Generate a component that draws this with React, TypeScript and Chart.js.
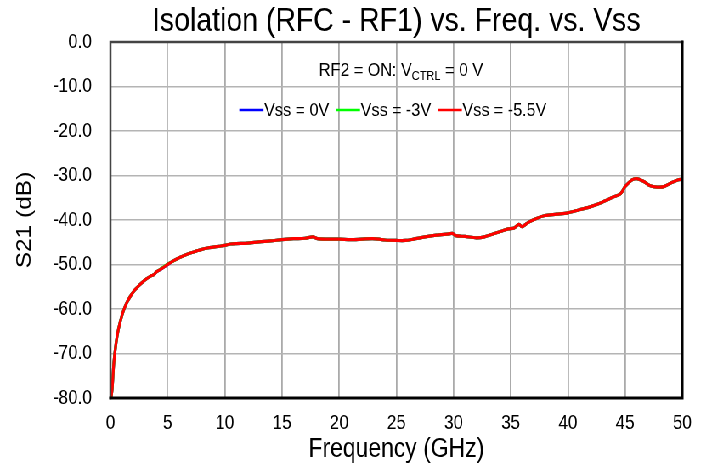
import { useEffect, useRef } from 'react';
import { Chart, registerables } from 'chart.js';

Chart.register(...registerables);

const titleText = 'Isolation (RFC - RF1) vs. Freq. vs. Vss';
const xAxisTitle = 'Frequency (GHz)';
const yAxisTitle = 'S21 (dB)';
const noteMain = 'RF2 = ON: V';
const noteSub = 'CTRL';
const noteTail = ' = 0 V';

const xTicks = [0, 5, 10, 15, 20, 25, 30, 35, 40, 45, 50];
const yTicks = [0, -10, -20, -30, -40, -50, -60, -70, -80];

const freqGHz = [
  0.05, 0.15, 0.3, 0.5, 0.7, 1.0, 1.3, 1.7, 2.1, 2.5, 3.0, 3.5, 3.8, 4.0, 4.5, 5.0,
  5.5, 6.0, 6.5, 7.0, 7.5, 8.0, 8.5, 9.0, 9.5, 10.0, 10.5, 11.0, 12.0, 13.0, 14.0,
  15.0, 16.0, 17.0, 17.7, 18.1, 19.0, 20.0, 21.0, 22.0, 22.9, 23.5, 24.0, 25.0,
  25.8, 26.5, 27.5, 28.5, 29.6, 29.9, 30.2, 31.0, 32.0, 32.7, 33.5, 34.3, 34.8,
  35.3, 35.7, 36.0, 36.5, 37.2, 38.0, 39.0, 40.0, 41.0, 42.0, 43.0, 44.0, 44.6,
  45.0, 45.6, 46.0, 46.6, 47.2, 47.8, 48.4, 49.0, 49.6, 50.0,
];

const vss0V = [
  -80, -78, -72, -67.5, -64.5, -61.5, -59.3, -57.3, -55.8, -54.7, -53.5, -52.6, -52.3, -51.7, -50.9, -50.0,
  -49.2, -48.5, -47.9, -47.4, -47.0, -46.6, -46.3, -46.1, -45.9, -45.7, -45.4, -45.3, -45.2, -44.9, -44.7,
  -44.4, -44.2, -44.1, -43.8, -44.2, -44.3, -44.3, -44.4, -44.3, -44.2, -44.3, -44.5, -44.6,
  -44.6, -44.3, -43.8, -43.4, -43.1, -43.0, -43.5, -43.7, -44.0, -43.8, -43.1, -42.4, -42.0,
  -41.8, -41.0, -41.5, -40.6, -39.7, -39.0, -38.7, -38.4, -37.7, -37.0, -36.0, -34.8, -34.1,
  -32.5, -31.0, -30.7, -31.3, -32.3, -32.6, -32.5, -31.7, -31.0, -30.8,
];

const vss3V = [
  -80, -78, -72, -67.5, -64.5, -61.5, -59.3, -57.3, -55.8, -54.7, -53.5, -52.6, -52.3, -51.7, -50.8, -49.9,
  -49.2, -48.5, -47.9, -47.4, -47.0, -46.6, -46.3, -46.1, -45.9, -45.7, -45.4, -45.3, -45.2, -44.9, -44.7,
  -44.4, -44.2, -44.1, -43.8, -44.2, -44.3, -44.3, -44.4, -44.3, -44.2, -44.3, -44.5, -44.6,
  -44.6, -44.3, -43.8, -43.4, -43.1, -43.0, -43.5, -43.7, -44.0, -43.8, -43.1, -42.4, -42.0,
  -41.8, -41.0, -41.5, -40.6, -39.7, -39.0, -38.7, -38.4, -37.7, -37.0, -36.0, -34.8, -34.1,
  -32.5, -31.0, -30.7, -31.3, -32.3, -32.6, -32.5, -31.7, -31.0, -30.8,
];

const vss55V = [
  -80, -78, -72, -67.5, -64.5, -61.5, -59.3, -57.3, -55.8, -54.7, -53.5, -52.6, -52.3, -51.7, -50.9, -50.0,
  -49.2, -48.5, -47.9, -47.4, -47.0, -46.6, -46.3, -46.1, -45.9, -45.7, -45.4, -45.3, -45.2, -44.9, -44.7,
  -44.4, -44.2, -44.1, -43.8, -44.2, -44.3, -44.3, -44.4, -44.3, -44.2, -44.3, -44.5, -44.6,
  -44.6, -44.3, -43.8, -43.4, -43.1, -43.0, -43.5, -43.7, -44.0, -43.8, -43.1, -42.4, -42.0,
  -41.8, -41.0, -41.5, -40.6, -39.7, -39.0, -38.7, -38.4, -37.7, -37.0, -36.0, -34.8, -34.1,
  -32.5, -31.0, -30.7, -31.3, -32.3, -32.6, -32.5, -31.7, -31.0, -30.8,
];

const seriesLabels = ['Vss = 0V', 'Vss = -3V', 'Vss = -5.5V'];
const seriesColors = ['#0000FF', '#00FF00', '#FF0000'];
const seriesValues = [vss0V, vss3V, vss55V];

const FONT = "'Liberation Sans', Arial, sans-serif";

// The reference is horizontally condensed; draw wider and squeeze with CSS.
const CANVAS_W = 838;
const CANVAS_H = 469;
const SQUEEZE = 712 / CANVAS_W;

const overlayPlugin = {
  id: 'overlay',
  afterDraw(chart: any) {
    const { ctx, chartArea } = chart;
    const { left, right, top, bottom } = chartArea;
    const cx = (left + right) / 2;
    ctx.save();
    // frame
    ctx.lineCap = 'square';
    ctx.strokeStyle = '#444444';
    ctx.lineWidth = 2.5;
    ctx.beginPath();
    ctx.moveTo(left, bottom);
    ctx.lineTo(left, top);
    ctx.lineTo(right, top);
    ctx.stroke();
    ctx.strokeStyle = '#000000';
    ctx.lineWidth = 3;
    ctx.beginPath();
    ctx.moveTo(right, top);
    ctx.lineTo(right, bottom);
    ctx.lineTo(left, bottom);
    ctx.stroke();

    // title
    ctx.fillStyle = '#000';
    ctx.font = `33.5px ${FONT}`;
    ctx.textAlign = 'center';
    ctx.textBaseline = 'alphabetic';
    ctx.fillText(titleText, cx, 31);

    // note
    const mainFont = `19px ${FONT}`;
    const subFont = `13px ${FONT}`;
    ctx.font = mainFont;
    const w1 = ctx.measureText(noteMain).width;
    const w3 = ctx.measureText(noteTail).width;
    ctx.font = subFont;
    const w2 = ctx.measureText(noteSub).width;
    const total = w1 + w2 + w3;
    let x = 472 - total / 2;
    const by = 76;
    ctx.textAlign = 'left';
    ctx.font = mainFont;
    ctx.fillText(noteMain, x, by);
    x += w1;
    ctx.font = subFont;
    ctx.fillText(noteSub, x, by + 4);
    x += w2;
    ctx.font = mainFont;
    ctx.fillText(noteTail, x, by);

    // legend
    ctx.font = mainFont;
    const lineLen = 26;
    const gapText = 2;
    const gapItem = 9;
    const widths = seriesLabels.map((s) => ctx.measureText(s).width);
    const legW = widths.reduce((a, b) => a + b, 0) + seriesLabels.length * (lineLen + gapText) + gapItem * (seriesLabels.length - 1);
    let lx = 463 - legW / 2;
    const ly = 110;
    ctx.textBaseline = 'middle';
    seriesLabels.forEach((s, i) => {
      ctx.strokeStyle = seriesColors[i];
      ctx.lineWidth = 2.5;
      ctx.beginPath();
      ctx.moveTo(lx, ly);
      ctx.lineTo(lx + lineLen, ly);
      ctx.stroke();
      lx += lineLen + gapText;
      ctx.fillStyle = '#000';
      ctx.fillText(s, lx, ly + 1);
      lx += widths[i] + gapItem;
    });
    ctx.restore();
  },
};

export default function App() {
  const ref = useRef<HTMLCanvasElement | null>(null);
  useEffect(() => {
    if (!ref.current) return;
    document.body.style.overflow = 'hidden';
    const chart = new Chart(ref.current, {
      type: 'line',
      data: {
        datasets: seriesLabels.map((label, i) => ({
          label,
          data: freqGHz.map((f, j) => ({ x: f, y: seriesValues[i][j] })),
          borderColor: seriesColors[i],
          backgroundColor: seriesColors[i],
          borderWidth: 3.2,
          pointRadius: 0,
          tension: 0.3,
          fill: false,
          order: seriesLabels.length - 1 - i,
        })),
      },
      options: {
        animation: false,
        responsive: true,
        maintainAspectRatio: false,
        layout: { padding: { top: 42, right: 35, left: 0, bottom: 0 } },
        plugins: {
          legend: { display: false },
          title: { display: false },
          tooltip: { enabled: false },
        },
        scales: {
          x: {
            type: 'linear',
            min: 0,
            max: 50,
            afterFit: (s: any) => { s.height = 71; },
            afterBuildTicks: (s: any) => { s.ticks = xTicks.map((v) => ({ value: v })); },
            ticks: {
              color: '#000',
              font: { family: FONT, size: 20 },
              padding: 13,
              maxRotation: 0,
              autoSkip: false,
            },
            grid: { color: '#aaaaaa', lineWidth: 1.8, drawTicks: false },
            border: { display: false },
            title: {
              display: true,
              text: xAxisTitle,
              color: '#000',
              font: { family: FONT, size: 27 },
              padding: { top: 0, bottom: 3 },
            },
          },
          y: {
            type: 'linear',
            min: -80,
            max: 0,
            afterFit: (s: any) => { s.width = 130; },
            afterBuildTicks: (s: any) => { s.ticks = yTicks.map((v) => ({ value: v })); },
            ticks: {
              color: '#000',
              font: { family: FONT, size: 20 },
              padding: 22,
              autoSkip: false,
              callback: (v: any) => Number(v).toFixed(1),
            },
            grid: { color: '#b4b4b4', lineWidth: 1.6, drawTicks: false },
            border: { display: false },
            title: {
              display: true,
              text: yAxisTitle,
              color: '#000',
              font: { family: FONT, size: 24.5 },
              padding: { top: 14.5, bottom: 0 },
            },
          },
        },
      },
      plugins: [overlayPlugin],
    });
    return () => chart.destroy();
  }, []);
  return (
    <div
      style={{
        position: 'absolute',
        left: 0,
        top: 0,
        width: CANVAS_W,
        height: CANVAS_H,
        background: '#fff',
        transform: `scaleX(${SQUEEZE})`,
        transformOrigin: '0 0',
      }}
    >
      <canvas ref={ref} />
    </div>
  );
}
